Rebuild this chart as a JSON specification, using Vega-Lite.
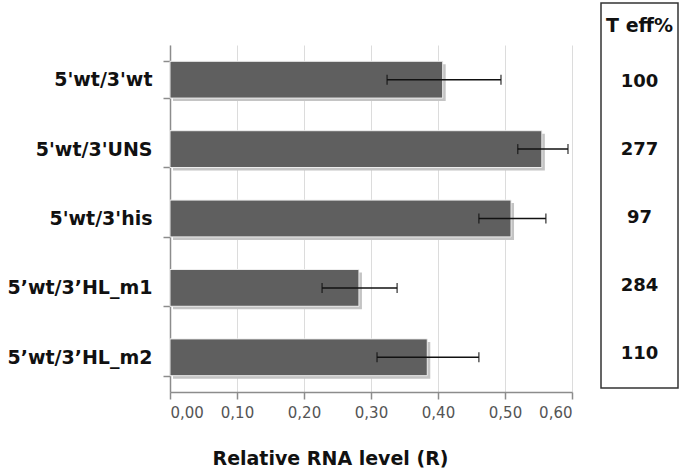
{
  "$schema": "https://vega.github.io/schema/vega-lite/v6.json",
  "padding": {"left": 7, "top": 2, "right": 1, "bottom": 2},
  "background": "white",
  "config": {"view": {"stroke": null}, "font": "DejaVu Sans"},
  "data": {
    "values": [
      {"construct": "5'wt/3'wt", "R": 0.407, "lo": 0.324, "hi": 0.494, "teff": 100},
      {"construct": "5'wt/3'UNS", "R": 0.555, "lo": 0.519, "hi": 0.594, "teff": 277},
      {"construct": "5'wt/3'his", "R": 0.509, "lo": 0.461, "hi": 0.561, "teff": 97},
      {"construct": "5’wt/3’HL_m1", "R": 0.282, "lo": 0.227, "hi": 0.339, "teff": 284},
      {"construct": "5’wt/3’HL_m2", "R": 0.384, "lo": 0.309, "hi": 0.461, "teff": 110}
    ]
  },
  "spacing": 27,
  "hconcat": [
    {
      "spacing": 0,
      "vconcat": [
        {
          "width": 402,
          "height": 33,
          "data": {"values": []},
          "mark": "rule",
          "encoding": {}
        },
        {
          "width": 402,
          "height": 347,
          "encoding": {
            "y": {
              "field": "construct",
              "type": "nominal",
              "sort": null,
              "scale": {"paddingInner": 0.47, "paddingOuter": 0.235},
              "axis": {
                "title": null,
                "tickBand": "extent",
                "tickSize": 7,
                "tickColor": "#8c8c8c",
                "tickWidth": 1.5,
                "domainColor": "#8c8c8c",
                "domainWidth": 1.5,
                "labelFont": "DejaVu Sans",
                "labelFontWeight": "bold",
                "labelFontSize": 19,
                "labelColor": "#111111",
                "labelPadding": 11,
                "grid": false
              }
            }
          },
          "layer": [
            {
              "mark": {"type": "bar", "color": "#c4c4c4", "xOffset": 3, "yOffset": 3},
              "encoding": {
                "x": {
                  "field": "R",
                  "type": "quantitative",
                  "title": "Relative RNA level (R)",
                  "scale": {"domain": [0, 0.6], "nice": false},
                  "axis": {
                    "values": [0, 0.1, 0.2, 0.3, 0.4, 0.5, 0.6],
                    "labelExpr": "replace(format(datum.value, '.2f'), '.', ',')",
                    "tickSize": 7,
                    "tickColor": "#8c8c8c",
                    "tickWidth": 1.5,
                    "domainColor": "#8c8c8c",
                    "domainWidth": 1.5,
                    "gridColor": "#dcdcdc",
                    "labelFont": "DejaVu Sans",
                    "labelFontSize": 15,
                    "labelColor": "#555555",
                    "labelPadding": 6,
                    "titleFont": "DejaVu Sans",
                    "titleFontSize": 19,
                    "titleFontWeight": "bold",
                    "titleColor": "#111111",
                    "titlePadding": 29,
                    "titleX": 160,
                    "titleAlign": "center"
                  }
                }
              }
            },
            {
              "mark": {"type": "bar", "color": "#5f5f5f", "stroke": "#eeeeee", "strokeWidth": 1},
              "encoding": {
                "x": {"field": "R", "type": "quantitative", "title": "Relative RNA level (R)"}
              }
            },
            {
              "mark": {"type": "rule", "color": "#111111", "strokeWidth": 1.5},
              "encoding": {
                "x": {"field": "lo", "type": "quantitative", "title": "Relative RNA level (R)"},
                "x2": {"field": "hi"}
              }
            },
            {
              "mark": {"type": "tick", "color": "#111111", "thickness": 1.5, "size": 10},
              "encoding": {
                "x": {"field": "lo", "type": "quantitative", "title": "Relative RNA level (R)"}
              }
            },
            {
              "mark": {"type": "tick", "color": "#111111", "thickness": 1.5, "size": 10},
              "encoding": {
                "x": {"field": "hi", "type": "quantitative", "title": "Relative RNA level (R)"}
              }
            }
          ]
        }
      ]
    },
    {
      "width": 77,
      "height": 385,
      "view": {"stroke": "#333333", "strokeWidth": 1.5},
      "title": {
        "text": "T eff%",
        "font": "DejaVu Sans",
        "fontSize": 19,
        "fontWeight": "bold",
        "color": "#111111",
        "offset": -33,
        "anchor": "middle"
      },
      "mark": {"type": "text", "font": "DejaVu Sans", "fontWeight": "bold", "fontSize": 18, "color": "#111111"},
      "encoding": {
        "y": {
          "field": "construct",
          "type": "nominal",
          "sort": null,
          "axis": null,
          "scale": {"type": "band", "paddingInner": 0, "paddingOuter": 0.33, "align": 1}
        },
        "text": {"field": "teff", "type": "quantitative"}
      }
    }
  ]
}
